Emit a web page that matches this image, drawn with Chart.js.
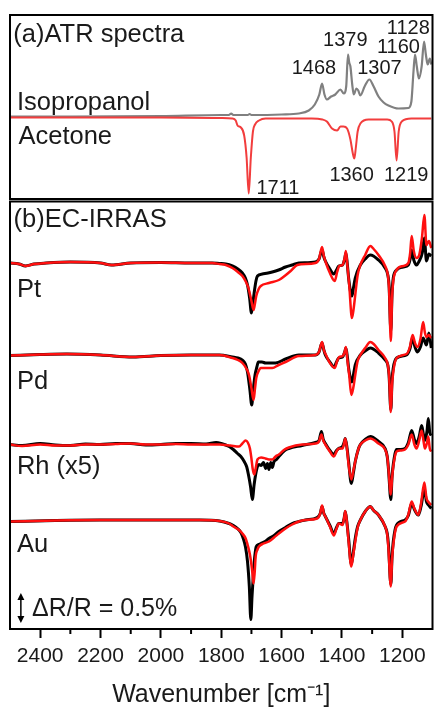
<!DOCTYPE html>
<html>
<head>
<meta charset="utf-8">
<script src="https://cdn.jsdelivr.net/npm/chart.js@4.4.1/dist/chart.umd.min.js"></script>
<style>
  html, body { margin: 0; padding: 0; background: #fff; overflow: hidden; }
  #wrap { position: relative; width: 434px; height: 707px; }
  #atr { position: absolute; left: 0; top: 0; }
  #irras { position: absolute; left: 0; top: 200px; }
</style>
</head>
<body>
<div id="wrap">
  <canvas id="atr" width="434" height="200"></canvas>
  <canvas id="irras" width="434" height="520"></canvas>
</div>
<script>
// wavenumber axis (cm-1), shared by both panels
const wnMin = 1100, wnMax = 2500;
const tickValues = [2400, 2200, 2000, 1800, 1600, 1400, 1200];
const minorTicks = [2300, 2100, 1900, 1700, 1500, 1300];

// (a) ATR spectra, [wavenumber, signal a.u.]; acetone is drawn inverted
const isopropanol = [[2500,0],[2300,0],[2000,0.5],[1800,1.5],[1775,1.5],[1767,3],[1760,1.5],[1740,1.5],[1712,1.5],[1706,2.5],[1700,1.5],[1600,2],[1543,3],[1510,6],[1490,12],[1475,22],[1466,33],[1458,22],[1450,17],[1436,20],[1422,22],[1405,27],[1394,23],[1386,30],[1380,62],[1376,54],[1372,50],[1366,32],[1361,22],[1352,28],[1346,26],[1339,21],[1325,30],[1309,37],[1295,30],[1279,20],[1262,14],[1246,11],[1213,8],[1180,8.5],[1170,15],[1163,45],[1158,62],[1152,50],[1145,38],[1136,50],[1128,75],[1122,62],[1116,52],[1109,58],[1104,52]];
const acetone = [[2500,0],[2000,0],[1800,-0.5],[1764,-1],[1752,-3],[1746,-8],[1735,-10],[1724,-18],[1716,-40],[1709,-76],[1702,-40],[1695,-14],[1688,-7],[1675,-3],[1653,-1],[1500,-1],[1465,-2],[1450,-4],[1433,-11],[1416,-13],[1405,-9],[1395,-9],[1383,-11],[1372,-22],[1364,-36],[1359,-41],[1354,-30],[1348,-14],[1339,-6],[1312,-2],[1250,-2],[1235,-4],[1226,-14],[1219,-43],[1212,-14],[1202,-4],[1170,-1],[1104,-1]];
const atrOffsets = [82.5, 81.5];
const isoPeaks = [1468, 1379, 1307, 1160, 1128];
const acetonePeaks = [1711, 1360, 1219];

// (b) EC-IRRAS, [wavenumber, signal a.u.] (30 a.u. = 0.5 % dR/R), black and red run per metal
const metals = ['Pt', 'Pd', 'Rh (x5)', 'Au'];
const metalOffsets = [366, 274, 184.5, 107.5];
const ptBlack = [[2500,0],[2470,-1],[2449,-3],[2420,-1],[2380,0],[2300,1],[2200,0],[2164,-2],[2100,0],[2000,0.5],[1900,0],[1830,0],[1806,-0.5],[1785,-1],[1763,-3],[1745,-6],[1730,-10],[1720,-15],[1713,-22],[1706,-35],[1700,-50],[1695,-40],[1691,-30],[1685,-18],[1680,-13],[1664,-11],[1645,-10],[1631,-9],[1610,-7],[1587,-4],[1565,-2],[1543,0],[1488,1],[1476,4],[1466,13],[1460,6],[1455,2],[1440,-6],[1427,-11],[1418,-7],[1411,-3],[1398,-2],[1391,4],[1387,10],[1382,-2],[1378,-15],[1367,-33],[1362,-25],[1356,-15],[1339,-2],[1323,4],[1306,8],[1279,3],[1257,-5],[1248,-12],[1244,-22],[1238,-68],[1234,-30],[1230,-15],[1219,-7],[1197,-4],[1180,-2],[1174,4],[1169,13],[1162,3],[1153,-2],[1144,2],[1134,10],[1127,25],[1120,2],[1112,9],[1104,7]];
const ptRed = [[2500,0],[2470,-1],[2449,-3],[2420,-1],[2380,0],[2300,1],[2200,0],[2164,-2],[2100,0],[2000,0.5],[1900,0],[1830,0],[1806,-1],[1785,-2],[1763,-5],[1745,-9],[1730,-13],[1718,-19],[1710,-25],[1700,-38],[1693,-47],[1688,-40],[1684,-33],[1676,-26],[1669,-23],[1642,-20],[1609,-17],[1590,-13],[1570,-8],[1548,-2],[1488,0],[1476,4],[1466,16],[1460,7],[1453,0],[1440,-10],[1424,-18],[1416,-9],[1409,-3],[1398,-2],[1391,5],[1387,12],[1382,-3],[1376,-22],[1367,-55],[1361,-45],[1356,-32],[1348,-12],[1339,-2],[1323,8],[1306,17],[1295,14],[1279,8],[1257,-3],[1248,-12],[1244,-25],[1238,-78],[1234,-35],[1230,-18],[1219,-7],[1197,-3],[1180,0],[1174,10],[1169,27],[1162,12],[1153,5],[1144,8],[1135,25],[1127,48],[1120,18],[1112,22],[1104,15]];
const pdBlack = [[2500,-0.5],[2400,0.5],[2312,1],[2200,0],[2093,-2],[2000,-0.5],[1900,0],[1806,0],[1763,-2],[1745,-3],[1730,-5],[1720,-9],[1713,-17],[1705,-35],[1699,-50],[1694,-35],[1688,-20],[1682,-12],[1677,-7],[1665,-7],[1653,-8],[1620,-8],[1587,-4],[1543,0],[1488,0],[1476,3],[1466,12],[1460,5],[1455,0],[1440,-7],[1427,-12],[1418,-7],[1411,-3],[1398,-2],[1391,3],[1387,7],[1382,-2],[1378,-13],[1367,-27],[1361,-18],[1356,-10],[1339,0],[1323,4],[1306,7],[1279,2],[1257,-5],[1248,-10],[1244,-20],[1238,-55],[1234,-25],[1230,-13],[1219,-3],[1186,0],[1175,6],[1166,17],[1158,8],[1150,3],[1140,8],[1131,17],[1120,10],[1112,22],[1104,7]];
const pdRed = [[2500,-0.5],[2400,0.5],[2312,1],[2200,0],[2093,-2],[2000,-0.5],[1900,0],[1806,0],[1763,-3],[1745,-5],[1730,-8],[1718,-13],[1708,-20],[1700,-33],[1693,-45],[1688,-33],[1684,-23],[1676,-16],[1669,-13],[1631,-13],[1610,-10],[1587,-7],[1543,-1],[1488,0],[1476,3],[1466,13],[1460,5],[1453,0],[1440,-8],[1424,-13],[1416,-6],[1409,-2],[1398,-1],[1391,3],[1387,8],[1382,-5],[1376,-20],[1369,-40],[1362,-32],[1356,-20],[1348,-6],[1339,0],[1323,7],[1306,13],[1295,11],[1279,5],[1257,-3],[1248,-10],[1244,-20],[1238,-57],[1234,-30],[1230,-17],[1219,-3],[1186,1],[1175,8],[1166,20],[1158,12],[1150,8],[1140,16],[1131,33],[1125,22],[1120,18],[1112,20],[1104,17]];
const rhBlack = [[2500,0],[2460,-1],[2400,1],[2350,-0.5],[2300,-1],[2250,0.5],[2202,0],[2150,1],[2100,1],[2050,-0.5],[2000,0],[1950,1],[1900,1],[1850,0.5],[1817,2],[1800,1],[1774,-2],[1760,-5],[1746,-9],[1735,-12],[1724,-17],[1716,-22],[1710,-30],[1703,-42],[1697,-55],[1691,-40],[1686,-30],[1680,-22],[1675,-20],[1668,-21],[1660,-18],[1653,-24],[1647,-19],[1642,-25],[1636,-18],[1631,-23],[1625,-17],[1617,-15],[1609,-12],[1590,-6],[1576,-4],[1532,-1],[1488,2],[1476,4],[1468,13],[1462,5],[1455,1],[1440,-6],[1427,-10],[1418,-6],[1411,-4],[1398,-2],[1393,2],[1389,6],[1383,-4],[1378,-17],[1369,-39],[1362,-28],[1356,-17],[1345,-4],[1339,0],[1323,5],[1306,8],[1279,3],[1257,-4],[1250,-12],[1246,-24],[1238,-55],[1234,-32],[1230,-20],[1219,-5],[1205,-5],[1191,-4],[1180,2],[1169,14],[1160,5],[1153,1],[1144,8],[1136,19],[1130,10],[1125,4],[1118,14],[1114,26],[1109,12],[1104,9]];
const rhRed = [[2500,0],[2460,-1.5],[2400,0],[2350,-1],[2300,-1],[2250,0],[2200,0],[2150,0.5],[2100,1],[2050,0],[2000,0],[1950,0.5],[1900,0],[1850,0],[1806,0],[1770,-1],[1741,-2],[1730,1],[1719,4],[1712,2],[1705,-4],[1700,-14],[1696,-24],[1691,-30],[1686,-24],[1680,-15],[1668,-13],[1653,-14],[1642,-15],[1631,-15],[1620,-12],[1609,-10],[1590,-5],[1576,-3],[1532,0],[1488,1],[1476,3],[1468,10],[1462,4],[1455,0],[1440,-7],[1427,-12],[1418,-7],[1411,-4],[1398,-4],[1393,1],[1389,6],[1383,-5],[1378,-20],[1369,-35],[1362,-26],[1356,-17],[1345,-4],[1339,0],[1323,4],[1306,6],[1279,1],[1257,-5],[1250,-12],[1246,-24],[1238,-50],[1234,-34],[1230,-22],[1219,-7],[1205,-6],[1191,-5],[1180,0],[1169,10],[1160,0],[1153,-4],[1144,4],[1136,14],[1130,4],[1125,-4],[1118,2],[1114,8],[1109,-4],[1104,-7]];
const auBlack = [[2500,0],[2350,1],[2202,1.5],[2000,1.5],[1872,1.5],[1806,0.5],[1774,-2],[1760,-4],[1746,-7],[1735,-11],[1727,-17],[1720,-25],[1713,-40],[1707,-65],[1702,-98],[1698,-75],[1693,-50],[1689,-35],[1684,-25],[1676,-23],[1669,-22],[1655,-20],[1642,-17],[1625,-14],[1609,-10],[1587,-6],[1565,-2],[1543,0],[1521,1.5],[1482,4],[1472,8],[1466,15],[1460,8],[1455,5],[1440,-4],[1427,-12],[1418,-6],[1411,-2],[1398,-2],[1393,3],[1389,10],[1384,0],[1378,-17],[1369,-43],[1362,-30],[1356,-17],[1348,-5],[1339,1.5],[1323,10],[1306,15],[1295,11],[1279,6.5],[1257,-5],[1250,-12],[1246,-23],[1238,-63],[1234,-35],[1230,-20],[1219,-3.5],[1191,1.5],[1180,6],[1169,18],[1160,12],[1147,6.5],[1138,15],[1127,32],[1120,20],[1112,16],[1104,13]];
const auRed = [[2500,0],[2350,1],[2202,1.5],[2000,1.5],[1872,1.5],[1806,0.5],[1774,-2],[1760,-5],[1741,-8.5],[1730,-12],[1719,-17],[1712,-24],[1705,-33],[1698,-48],[1693,-62],[1689,-50],[1686,-35],[1680,-28],[1675,-25],[1660,-22],[1642,-20],[1625,-16],[1609,-12],[1587,-7],[1565,-3],[1543,0],[1521,1.5],[1482,3],[1472,8],[1466,16],[1460,8],[1455,5],[1440,-5],[1427,-14],[1418,-7],[1411,-2],[1398,-3.5],[1393,3],[1389,10.5],[1384,0],[1378,-20],[1369,-45],[1362,-32],[1356,-20],[1348,-6],[1339,1.5],[1323,10],[1306,15],[1295,11],[1279,6.5],[1257,-5],[1250,-13],[1246,-27],[1238,-65],[1234,-38],[1230,-23.5],[1219,-5],[1191,0],[1180,7],[1169,20],[1160,13],[1147,6.5],[1138,18],[1127,39],[1120,23.5],[1112,19],[1104,16.5]];
const blackRuns = [ptBlack, pdBlack, rhBlack, auBlack];
const redRuns = [ptRed, pdRed, rhRed, auRed];
const scaleBarText = '\u0394R/R = 0.5%';
const scaleBarSize = 30;

// ---- layout of the text (data coordinates of each panel) ----
const FONT = '"Liberation Sans", Arial, sans-serif';
const isoPeakPos = [[1493,125],[1389,153],[1276,125],[1213,146.3],[1180,165]];
const acePeakPos = [[1612,4.7],[1368,18],[1187,18]];
const metalPos = [[2477,332.3],[2477,239.7],[2477,155],[2477,77.3]];

Chart.defaults.font.family = FONT;
Chart.defaults.color = '#1a1a1a';

const toXY = (run, off) => run.map(p => ({ x: p[0], y: p[1] + off }));

const panelDecor = {
  id: 'panelDecor',
  afterDatasetsDraw(chart, args, o) {
    const { ctx, chartArea: a, scales: { x, y } } = chart;
    ctx.save();
    ctx.strokeStyle = '#000';
    ctx.lineWidth = 2;
    ctx.strokeRect(a.left, a.top, a.right - a.left, a.bottom - a.top);
    (o.minor || []).forEach(v => {
      const px = x.getPixelForValue(v);
      ctx.beginPath();
      ctx.moveTo(px, a.bottom);
      ctx.lineTo(px, a.bottom + 5);
      ctx.stroke();
    });
    ctx.fillStyle = '#1a1a1a';
    ctx.textBaseline = 'alphabetic';
    (o.labels || []).forEach(l => {
      ctx.font = l.size + 'px ' + FONT;
      ctx.textAlign = l.align || 'left';
      ctx.fillText(l.text, x.getPixelForValue(l.x), y.getPixelForValue(l.y));
    });
    if (o.bar) {
      const bx = x.getPixelForValue(o.bar.x);
      const y0 = y.getPixelForValue(o.bar.y);
      const y1 = y.getPixelForValue(o.bar.y + o.bar.len);
      ctx.lineWidth = 1.5;
      ctx.beginPath();
      ctx.moveTo(bx, y0 - 4);
      ctx.lineTo(bx, y1 + 4);
      ctx.stroke();
      ctx.fillStyle = '#000';
      ctx.beginPath();
      ctx.moveTo(bx, y1); ctx.lineTo(bx - 3.5, y1 + 7); ctx.lineTo(bx + 3.5, y1 + 7);
      ctx.closePath(); ctx.fill();
      ctx.beginPath();
      ctx.moveTo(bx, y0); ctx.lineTo(bx - 3.5, y0 - 7); ctx.lineTo(bx + 3.5, y0 - 7);
      ctx.closePath(); ctx.fill();
    }
    ctx.restore();
  }
};

const lineDefaults = {
  pointRadius: 0,
  fill: false,
  cubicInterpolationMode: 'monotone'
};

// panel (a)
const atrLabels = [
  { text: '(a)ATR spectra', x: 2489, y: 156.7, size: 25.5 },
  { text: 'Isopropanol', x: 2477, y: 89, size: 25.5 },
  { text: 'Acetone', x: 2472, y: 55, size: 25.5 }
];
isoPeaks.forEach((p, i) => atrLabels.push({ text: String(p), x: isoPeakPos[i][0], y: isoPeakPos[i][1], size: 20, align: 'center' }));
acetonePeaks.forEach((p, i) => atrLabels.push({ text: String(p), x: acePeakPos[i][0], y: acePeakPos[i][1], size: 20, align: 'center' }));

new Chart(document.getElementById('atr'), {
  type: 'line',
  data: {
    datasets: [
      { ...lineDefaults, label: 'Acetone', data: toXY(acetone, atrOffsets[1]), borderColor: '#f23d3d', borderWidth: 2, order: 0 },
      { ...lineDefaults, label: 'Isopropanol', data: toXY(isopropanol, atrOffsets[0]), borderColor: '#808080', borderWidth: 2.2, order: 1 }
    ]
  },
  options: {
    responsive: false,
    animation: false,
    layout: { padding: { left: 10, right: 1.5, top: 15, bottom: 1 } },
    plugins: {
      legend: { display: false },
      tooltip: { enabled: false },
      panelDecor: { labels: atrLabels }
    },
    scales: {
      x: { type: 'linear', min: wnMin, max: wnMax, reverse: true, display: false },
      y: { min: 0, max: 184, display: false }
    }
  },
  plugins: [panelDecor]
});

// panel (b)
const irrasLabels = [{ text: '(b)EC-IRRAS', x: 2488, y: 402.3, size: 25.5 }];
metals.forEach((m, i) => irrasLabels.push({ text: m, x: metalPos[i][0], y: metalPos[i][1], size: 25.5 }));
irrasLabels.push({ text: scaleBarText, x: 2427, y: 13, size: 25 });

const irrasSets = [];
metals.forEach((m, i) => {
  irrasSets.push({ ...lineDefaults, label: m + ' red', data: toXY(redRuns[i], metalOffsets[i]), borderColor: '#ff1010', borderWidth: 2.5, order: 0 });
  irrasSets.push({ ...lineDefaults, label: m + ' black', data: toXY(blackRuns[i], metalOffsets[i]), borderColor: '#000000', borderWidth: 3, order: 1 });
});

new Chart(document.getElementById('irras'), {
  type: 'line',
  data: { datasets: irrasSets },
  options: {
    responsive: false,
    animation: false,
    layout: { padding: { left: 10, right: 1.5, top: 1.5, bottom: 6 } },
    plugins: {
      legend: { display: false },
      tooltip: { enabled: false },
      panelDecor: { labels: irrasLabels, minor: minorTicks, bar: { x: 2464, y: 6, len: scaleBarSize } }
    },
    scales: {
      x: {
        type: 'linear', min: wnMin, max: wnMax, reverse: true,
        afterBuildTicks: axis => { axis.ticks = tickValues.map(v => ({ value: v })); },
        afterFit: axis => { axis.height = 85; },
        ticks: { font: { size: 21 }, color: '#1a1a1a', padding: 6, maxRotation: 0, autoSkip: false, callback: v => String(v) },
        grid: { drawOnChartArea: false, drawTicks: true, tickLength: 9, tickWidth: 2, tickColor: '#000' },
        border: { display: true, color: '#000', width: 2 },
        title: { display: true, text: 'Wavenumber [cm\u207B\u00B9]', font: { size: 25 }, color: '#1a1a1a' }
      },
      y: { min: 0, max: 427.5, display: false }
    }
  },
  plugins: [panelDecor]
});
</script>
</body>
</html>
